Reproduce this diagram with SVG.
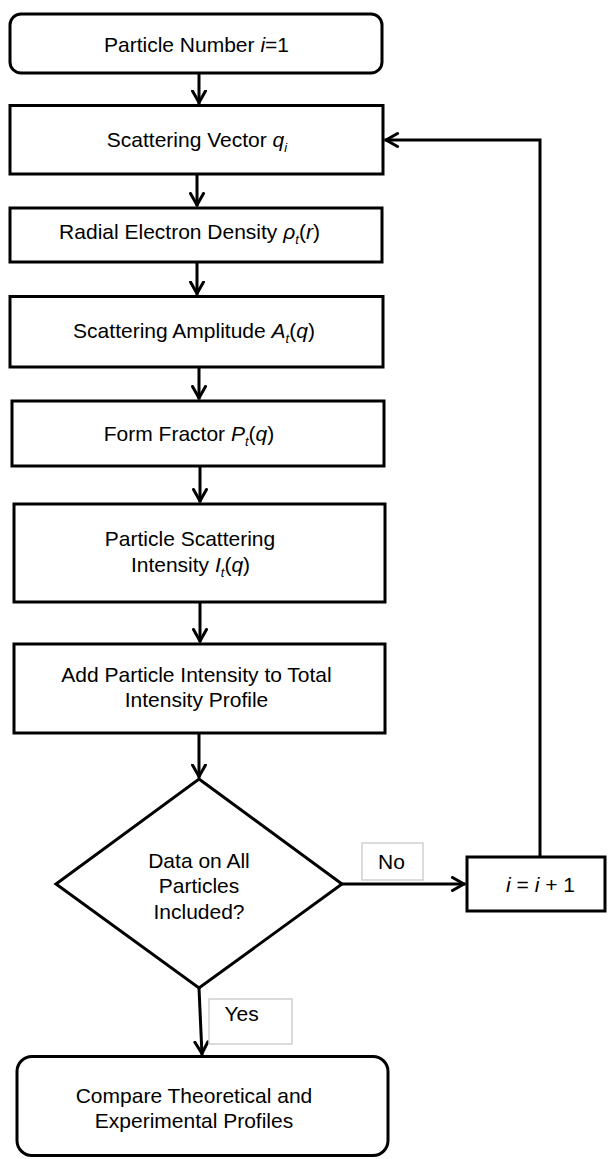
<svg xmlns="http://www.w3.org/2000/svg" width="610" height="1159" viewBox="0 0 610 1159">
<style>
.box{fill:#fff;stroke:#000;stroke-width:3}
.t{font-family:"Liberation Sans",Arial,Helvetica,sans-serif;font-size:21px;fill:#000;text-anchor:middle}
.st{font-family:"Liberation Sans",Arial,Helvetica,sans-serif;font-size:21px;fill:#000}
.i{font-style:italic}
.s{font-size:13px}
.c{fill:none;stroke:#000;stroke-width:3;marker-end:url(#ah)}
.lbl{fill:#fff;stroke:#d0d0d0;stroke-width:1.5}
</style>
<defs>
<marker id="ah" viewBox="0 0 16 16" refX="14.5" refY="8" markerWidth="16" markerHeight="16" markerUnits="userSpaceOnUse" orient="auto">
<path d="M1.5,1.5 L13,8 L1.5,14.5" fill="none" stroke="#000" stroke-width="3" stroke-linejoin="round" stroke-linecap="round"/>
</marker>
</defs>
<rect width="610" height="1159" fill="#fff"/>
<g id="connectors">
<line class="c" x1="199" y1="73" x2="199" y2="104"/>
<line class="c" x1="197" y1="174" x2="197" y2="206.5"/>
<line class="c" x1="197" y1="262" x2="197" y2="295"/>
<line class="c" x1="199" y1="367" x2="199" y2="399.5"/>
<line class="c" x1="200" y1="466" x2="200" y2="502.5"/>
<line class="c" x1="200" y1="602" x2="200" y2="642.5"/>
<line class="c" x1="199" y1="733" x2="199" y2="778"/>
<line class="c" x1="199" y1="988" x2="202" y2="1055"/>
<line class="c" x1="342" y1="884" x2="465.5" y2="884"/>
<polyline class="c" points="540,857 540,140 384.5,140"/>
</g>
<g id="label-no">
<rect class="lbl" x="362" y="843" width="61" height="37"/>
<text class="st" x="378" y="869">No</text>
</g>
<g id="label-yes">
<rect class="lbl" x="209" y="999" width="83" height="45"/>
<text class="st" x="224.5" y="1021">Yes</text>
</g>
<g id="n1">
<rect class="box" x="10" y="14" width="372" height="59" rx="11"/>
<text class="t" x="196.5" y="52">Particle Number <tspan class="i">i</tspan>=1</text>
</g>
<g id="n2">
<rect class="box" x="10" y="105.5" width="373" height="68.5"/>
<text class="t" x="197" y="147">Scattering Vector <tspan class="i">q</tspan><tspan class="i s" dy="5">i</tspan></text>
</g>
<g id="n3">
<rect class="box" x="10" y="208" width="372" height="54"/>
<text class="t" x="189.5" y="239">Radial Electron Density <tspan class="i">ρ</tspan><tspan class="i s" dy="5">t</tspan><tspan dy="-5">(</tspan><tspan class="i">r</tspan>)</text>
</g>
<g id="n4">
<rect class="box" x="10" y="296.5" width="373" height="70.5"/>
<text class="t" x="194" y="338">Scattering Amplitude <tspan class="i">A</tspan><tspan class="i s" dy="5">t</tspan><tspan dy="-5">(</tspan><tspan class="i">q</tspan>)</text>
</g>
<g id="n5">
<rect class="box" x="12" y="401" width="372" height="65"/>
<text class="t" x="189" y="441">Form Fractor <tspan class="i">P</tspan><tspan class="i s" dy="5">t</tspan><tspan dy="-5">(</tspan><tspan class="i">q</tspan>)</text>
</g>
<g id="n6">
<rect class="box" x="14" y="504" width="371" height="98"/>
<text class="t" x="190" y="546">Particle Scattering</text>
<text class="t" x="190.5" y="572">Intensity <tspan class="i">I</tspan><tspan class="i s" dy="5">t</tspan><tspan dy="-5">(</tspan><tspan class="i">q</tspan>)</text>
</g>
<g id="n7">
<rect class="box" x="14" y="644" width="371" height="89"/>
<text class="t" x="196.5" y="682">Add Particle Intensity to Total</text>
<text class="t" x="196.5" y="707">Intensity Profile</text>
</g>
<g id="n8">
<polygon class="box" points="199,779 342,884 199,988 56,884"/>
<text class="t" x="199" y="868">Data on All</text>
<text class="t" x="199" y="893">Particles</text>
<text class="t" x="199" y="919">Included?</text>
</g>
<g id="n9">
<rect class="box" x="467" y="857" width="138" height="54"/>
<text class="t" x="540.5" y="892"><tspan class="i">i</tspan> = <tspan class="i">i</tspan> + 1</text>
</g>
<g id="n10">
<rect class="box" x="17" y="1056.5" width="371" height="99" rx="15"/>
<text class="t" x="194" y="1103">Compare Theoretical and</text>
<text class="t" x="194" y="1128">Experimental Profiles</text>
</g>
</svg>
